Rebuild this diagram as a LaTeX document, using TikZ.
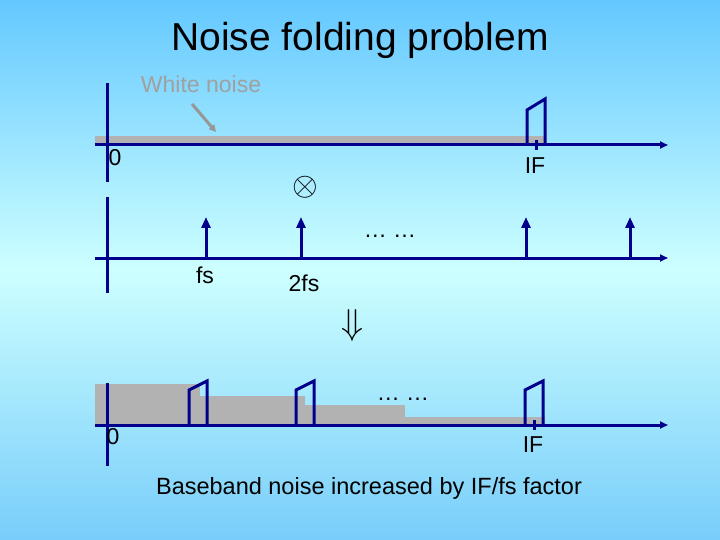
\documentclass[tikz,border=0pt]{standalone}
\usepackage{fontspec}
\setmainfont{Liberation Sans}
\usetikzlibrary{arrows.meta}
\definecolor{navy}{RGB}{0,0,140}
\definecolor{noise}{RGB}{178,178,178}
\definecolor{bgtop}{RGB}{100,200,255}
\definecolor{bgmid}{RGB}{205,255,255}
\definecolor{bgbot}{RGB}{120,205,250}
\begin{document}
\begin{tikzpicture}[x=1pt,y=-1pt,
 ax/.style={navy,line width=3pt,-{Triangle[length=8pt,width=7pt]}},
 vax/.style={navy,line width=3pt},
 pulse/.style={navy,line width=3pt},
 imp/.style={navy,line width=3pt,-{Triangle[length=11pt,width=9pt]}},
 lab/.style={font=\fontsize{23}{25}\selectfont,inner sep=0pt}]
\useasboundingbox (0,0) rectangle (720,540);
\fill[top color=bgtop,bottom color=bgmid] (0,0) rectangle (720,270);
\fill[top color=bgmid,bottom color=bgbot] (0,270) rectangle (720,540);
\node[font=\fontsize{39}{42}\selectfont] (title) at (360,40) {Noise folding problem};
% top
\fill[noise] (95,136) rectangle (545,145);
\node[lab,text=noise!90!black] (wn) at (201,84) {White noise};
\coordinate (wa) at (216,132);
\draw[noise!85!black,line width=3pt,-{Triangle[length=7pt,width=7pt]}] (192,104) -- (wa);
\coordinate (a1s) at (95,145); \coordinate (a1e) at (668,145);
\draw[ax] (a1s) -- (a1e);
\coordinate (v1t) at (107,83); \coordinate (v1b) at (107,182);
\draw[vax] (v1t) -- (v1b);
\draw[pulse] (527,145) -- (527,110) -- (545,99) -- (545,145);
\draw[navy,line width=3pt] (536,140) -- (536,150);
\node[lab] (z1) at (115,158) {0};
\node[lab] (if1) at (535,166) {IF};
\node[scale=3.3] (ot) at (305,187) {$\otimes$};
% second
\coordinate (a2s) at (95,258); \coordinate (a2e) at (668,258);
\draw[ax] (a2s) -- (a2e);
\coordinate (v2t) at (107,197); \coordinate (v2b) at (107,293);
\draw[vax] (v2t) -- (v2b);
\foreach \x/\n in {206/i1,301/i2,526/i3,630/i4}{
 \coordinate (\n) at (\x,217);
 \draw[imp] (\x,258) -- (\n);}
\node[lab] (fs) at (205,275) {fs};
\node[lab] (tfs) at (304,283) {2fs};
\node[lab] (d1) at (390,236) {\dots\ \dots};
\node[scale=3.6] (dn) at (352,325) {$\Downarrow$};
% bottom
\fill[noise] (95,384) rectangle (200,425);
\fill[noise] (200,396) rectangle (305,425);
\fill[noise] (305,405) rectangle (405,425);
\fill[noise] (405,417) rectangle (545,425);
\coordinate (a3s) at (95,425); \coordinate (a3e) at (668,425);
\draw[ax] (a3s) -- (a3e);
\coordinate (v3t) at (107,383); \coordinate (v3b) at (107,466);
\draw[vax] (v3t) -- (v3b);
\foreach \x in {189,296,525}{
 \draw[pulse] (\x,425) -- (\x,390) -- (\x+18,381) -- (\x+18,425);}
\draw[navy,line width=3pt] (534,420) -- (534,430);
\node[lab] (d2) at (403,399) {\dots\ \dots};
\node[lab] (z3) at (113,437) {0};
\node[lab] (if3) at (533,445) {IF};
\node[font=\fontsize{23.5}{26}\selectfont] (cap) at (369,488) {Baseband noise increased by IF/fs factor};
\end{tikzpicture}
\end{document}
